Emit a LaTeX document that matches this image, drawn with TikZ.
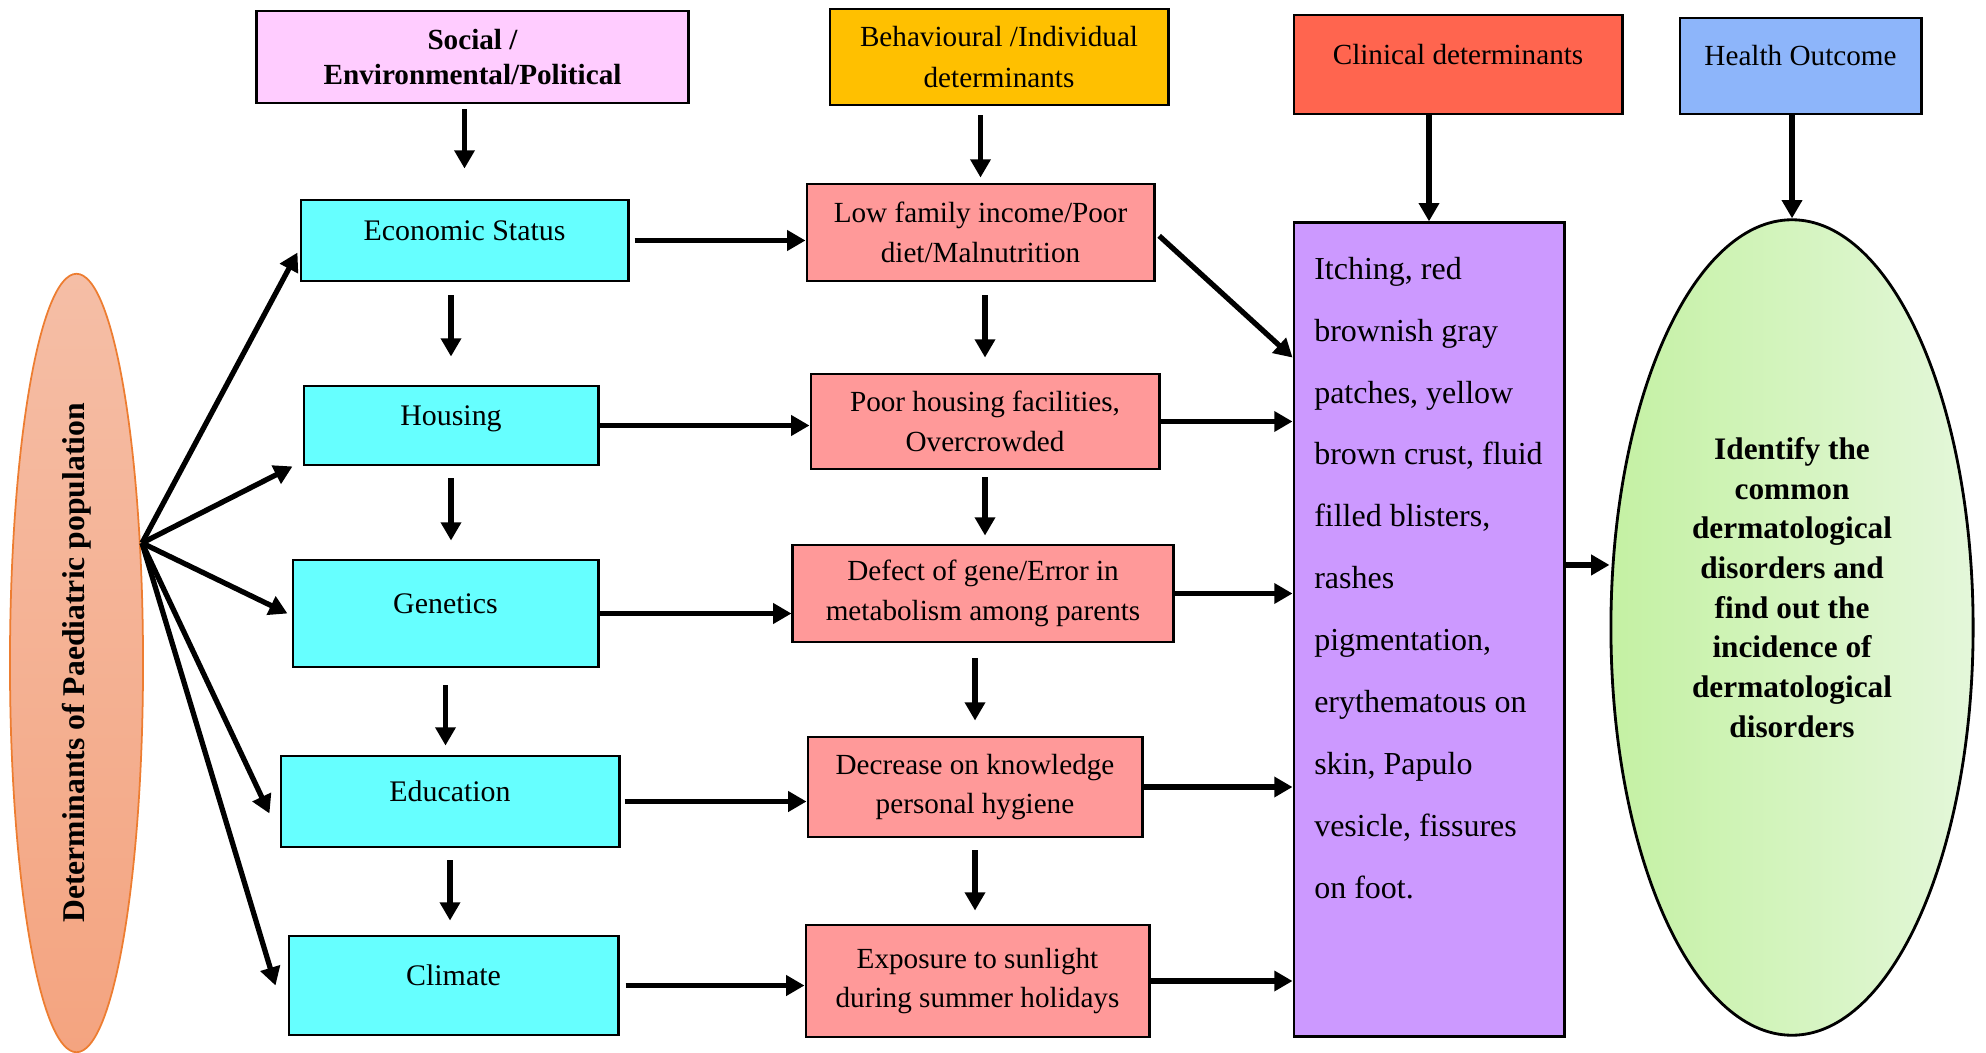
\documentclass[tikz,border=0pt]{standalone}
\usepackage{fontspec}
\setmainfont{Liberation Serif}
\usetikzlibrary{arrows.meta,shapes.geometric}

\definecolor{socpink}{HTML}{FFCCFF}
\definecolor{behgold}{HTML}{FFC000}
\definecolor{clinred}{HTML}{FF654F}
\definecolor{outblue}{HTML}{8DB5FA}
\definecolor{factcyan}{HTML}{66FFFF}
\definecolor{effpink}{HTML}{FF9999}
\definecolor{symplilac}{HTML}{CC99FF}
\definecolor{outgreenL}{HTML}{C4F1A3}
\definecolor{outgreenR}{HTML}{E4F7DA}
\definecolor{detpeachT}{HTML}{F5BEA6}
\definecolor{detpeachB}{HTML}{F4A480}
\definecolor{detedge}{HTML}{ED7D31}

\begin{document}
\begin{tikzpicture}[
    x=0.01cm, y=-0.01cm, % one unit = one pixel of the layout, y grows downwards
    >={Triangle[length=5.2pt,width=5.6pt]},
    % text style: size and line spacing
    txt/.style={font=\fontsize{8.3}{11.3}\selectfont},
    % box style: fill colour as argument
    box/.style={draw,line width=0.8pt,fill=#1,align=center,inner sep=0pt,txt},
    % lifts a single line a little above the middle of its box
    topline/.style={text height=0.25cm,text depth=0.25cm},
    arr/.style={->,line width=1.5pt}
]

\useasboundingbox (0,0) rectangle (1986,1052);

% ==============================
% HEADER ROW
% ==============================
\node[box=socpink,minimum width=4.31cm,minimum height=0.92cm,font=\fontsize{8.3}{10.1}\selectfont\bfseries] (soc) at (472.5,57) {Social /\\Environmental/Political};
\node[box=behgold,minimum width=3.38cm,minimum height=0.96cm,font=\fontsize{8.3}{11.5}\selectfont] (beh) at (999,57) {Behavioural /Individual\\determinants};
\node[box=clinred,topline,minimum width=3.28cm,minimum height=0.99cm] (clin) at (1458,64.5) {Clinical determinants};
\node[box=outblue,topline,minimum width=2.41cm,minimum height=0.96cm] (hlth) at (1800.5,66) {Health Outcome};

% ==============================
% LEFT: population ellipse
% ==============================
\node[ellipse,draw=detedge,line width=0.5pt,top color=detpeachT,bottom color=detpeachB,minimum width=1.33cm,minimum height=7.78cm,inner sep=0pt,font=\fontsize{9}{10}\selectfont\bfseries] (det) at (76.5,663) {\rotatebox{90}{Determinants of Paediatric population}};
\coordinate (hub) at (142,543); % where the five arrows leave the ellipse

% ==============================
% SOCIAL COLUMN (cyan)
% ==============================
\node[box=factcyan,topline,minimum width=3.27cm,minimum height=0.81cm,font=\fontsize{8.5}{11.3}\selectfont] (econ) at (464.5,240.5) {Economic Status};
\node[box=factcyan,topline,minimum width=2.94cm,minimum height=0.79cm,font=\fontsize{8.5}{11.3}\selectfont] (hous) at (451,425.5) {Housing};
\node[box=factcyan,topline,minimum width=3.05cm,minimum height=1.07cm,font=\fontsize{8.5}{11.3}\selectfont] (gene) at (445.5,613.5) {Genetics};
\node[box=factcyan,topline,minimum width=3.38cm,minimum height=0.91cm,font=\fontsize{8.5}{11.3}\selectfont] (educ) at (450,801.5) {Education};
\node[box=factcyan,topline,minimum width=3.29cm,minimum height=0.99cm,font=\fontsize{8.5}{11.3}\selectfont] (clim) at (453.5,985.5) {Climate};

% ==============================
% BEHAVIOURAL COLUMN (pink)
% ==============================
\node[box=effpink,minimum width=3.47cm,minimum height=0.97cm] (low) at (980.5,232.5) {Low family income/Poor\\diet/Malnutrition};
\node[box=effpink,minimum width=3.48cm,minimum height=0.95cm] (poor) at (985,421.5) {Poor housing facilities,\\Overcrowded};
\node[box=effpink,minimum width=3.80cm,minimum height=0.97cm] (dfct) at (983,593.5) {Defect of gene/Error in\\metabolism among parents};
\node[box=effpink,minimum width=3.34cm,minimum height=1.00cm] (decr) at (975,787) {Decrease on knowledge\\personal hygiene};
\node[box=effpink,minimum width=3.43cm,minimum height=1.12cm] (expo) at (977.5,981) {Exposure to sunlight\\during summer holidays};

% ==============================
% CLINICAL BOX + OUTCOME ELLIPSE
% ==============================
\node[box=symplilac,minimum width=2.70cm,minimum height=8.13cm] (symp) at (1429,629.5) {};
\node[txt,anchor=north west,align=left,inner sep=0pt,font=\fontsize{9.1}{17.6}\selectfont] (symptxt) at ([xshift=0.21cm,yshift=-0.35cm]symp.north west)
    {Itching, red\\brownish gray\\patches, yellow\\brown crust, fluid\\filled blisters,\\rashes\\pigmentation,\\erythematous on\\skin, Papulo\\vesicle, fissures\\on foot.};

\node[ellipse,draw,line width=0.8pt,left color=outgreenL,right color=outgreenR,minimum width=3.62cm,minimum height=8.15cm,inner sep=0pt] (outc) at (1792,627.5) {};
\node[txt,align=center,font=\fontsize{8.9}{11.3}\selectfont\bfseries] (outctxt) at ([yshift=0.4cm]outc.center)
    {Identify the\\common\\dermatological\\disorders and\\find out the\\incidence of\\dermatological\\disorders};

% ==============================
% ARROWS FROM THE ELLIPSE
% ==============================
\draw[arr] (hub) -- ([xshift=-0.02cm,yshift=-0.12cm]econ.west);
\draw[arr] (hub) -- ([xshift=-0.10cm]hous.south west);
\draw[arr] (hub) -- ([xshift=-0.04cm]gene.west);
\draw[arr] (hub) -- ([xshift=-0.10cm,yshift=-0.12cm]educ.west);
\draw[arr] (hub) -- ([xshift=-0.12cm]clim.west);

% DOWNWARD ARROWS – shorten values keep the gaps under/over the boxes
\draw[arr,shorten <=0.05cm,shorten >=0.30cm] (soc.south -| econ.north) -- (econ.north);
\draw[arr,shorten <=0.13cm,shorten >=0.28cm] (econ.south -| hous.north) -- (hous.north);
\draw[arr,shorten <=0.12cm,shorten >=0.18cm] (hous.south) -- (hous.south |- gene.north);
\draw[arr,shorten <=0.17cm,shorten >=0.09cm] (gene.south) -- (gene.south |- educ.north);
\draw[arr,shorten <=0.12cm,shorten >=0.14cm] (educ.south) -- (educ.south |- clim.north);

\draw[arr,shorten <=0.09cm,shorten >=0.05cm] (beh.south -| low.north) -- (low.north);
\draw[arr,shorten <=0.13cm,shorten >=0.15cm] (low.south -| poor.north) -- (poor.north);
\draw[arr,shorten <=0.07cm,shorten >=0.08cm] (poor.south) -- (poor.south |- dfct.north);
\draw[arr,shorten <=0.15cm,shorten >=0.15cm] (dfct.south -| decr.north) -- (decr.north);
\draw[arr,shorten <=0.12cm,shorten >=0.13cm] (decr.south) -- (decr.south |- expo.north);

\draw[arr] (clin.south -| symp.north) -- (symp.north);
\draw[arr] (hlth.south -| outc.north) -- (outc.north);

% ACROSS: social -> behavioural
\draw[arr,shorten <=0.05cm] (econ.east) -- (econ.east -| low.west);
\draw[arr] (hous.east) -- (hous.east -| poor.west);
\draw[arr] (gene.east) -- (gene.east -| dfct.west);
\draw[arr,shorten <=0.04cm] (educ.east) -- (educ.east -| decr.west);
\draw[arr,shorten <=0.06cm] (clim.east) -- (clim.east -| expo.west);

% ACROSS: behavioural -> clinical
\draw[arr,shorten <=0.05cm] (low.east) -- ([yshift=-1.25cm]low.east -| symp.west);
\draw[arr] (poor.east) -- (poor.east -| symp.west);
\draw[arr] (dfct.east) -- (dfct.east -| symp.west);
\draw[arr] (decr.east) -- (decr.east -| symp.west);
\draw[arr] (expo.east) -- (expo.east -| symp.west);

% clinical -> outcome
\draw[arr] ([yshift=0.645cm]symp.east) -- ([yshift=0.645cm]symp.east -| outc.west);
\end{tikzpicture}
\end{document}
